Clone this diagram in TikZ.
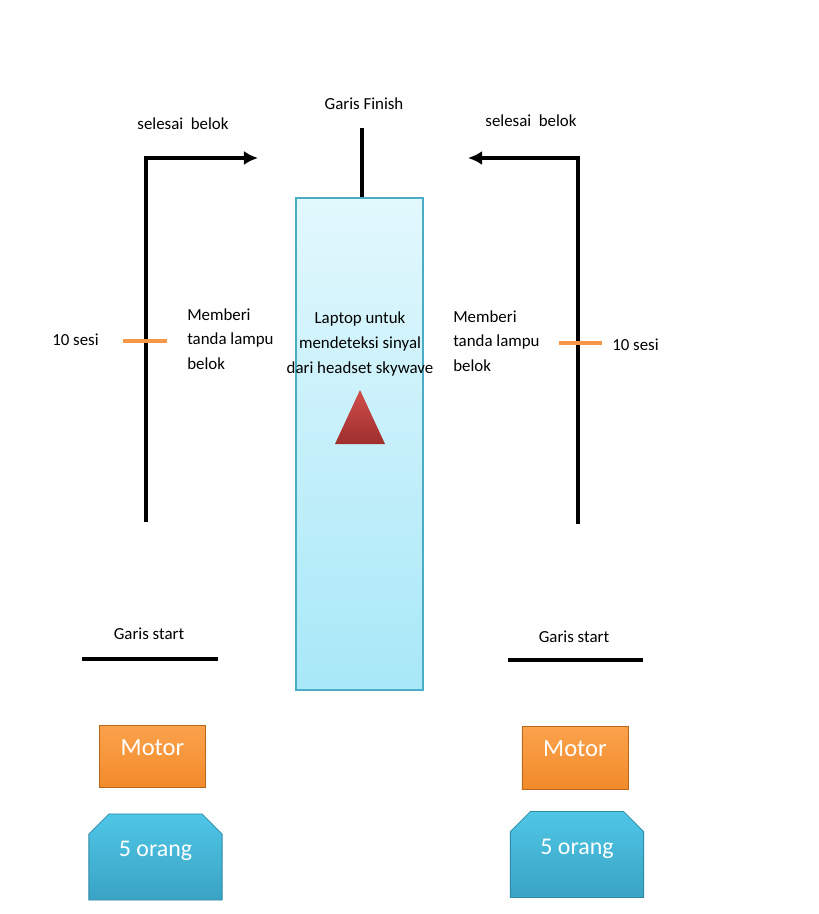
\documentclass[tikz,border=0pt]{standalone}
\usepackage{fontspec}
\setmainfont{Carlito}
\usetikzlibrary{arrows.meta, shapes.misc, positioning}

\definecolor{boxcyan}{HTML}{4BACC6}
\definecolor{boxtop}{HTML}{E2F8FD}
\definecolor{boxbottom}{HTML}{A8E8F8}
\definecolor{tickorange}{HTML}{F79646}
\definecolor{motortop}{HTML}{FBA24C}
\definecolor{motorbottom}{HTML}{F28A2A}
\definecolor{motorborder}{HTML}{B8661A}
\definecolor{grouptop}{HTML}{4FC6E6}
\definecolor{groupbottom}{HTML}{3AA3C4}
\definecolor{groupborder}{HTML}{2F8AA6}
\definecolor{conetop}{HTML}{D04E4C}
\definecolor{conebottom}{HTML}{9E2F2D}

\begin{document}
\begin{tikzpicture}[x=0.025cm, y=-0.025cm,
            track/.style={line width=2.8pt},
            lamptick/.style={draw=tickorange, line width=2.4pt},
            startline/.style={line width=2.3pt},
            lbl/.style={inner sep=0pt, font=\fontsize{12}{14}\selectfont},
            lamp/.style={lbl, align=left, font=\fontsize{12}{17.5}\selectfont},
            laptopbox/.style={draw=boxcyan, line width=1.4pt, top color=boxtop, bottom color=boxbottom,
                minimum width=3.175cm, minimum height=12.3cm, inner sep=0pt},
            motorbox/.style={draw=motorborder, line width=0.6pt, top color=motortop, bottom color=motorbottom,
                minimum width=2.65cm, minimum height=1.56cm, inner sep=0pt, text depth=13pt,
                text=white, font=\fontsize{17.5}{20}\selectfont},
            groupbox/.style={chamfered rectangle, chamfered rectangle corners={north east, north west},
                chamfered rectangle xsep=0.25cm, chamfered rectangle ysep=0.25cm,
                draw=groupborder, line width=0.6pt, top color=grouptop, bottom color=groupbottom,
                minimum width=3.33cm, minimum height=2.15cm, inner sep=0pt, text depth=11pt,
                text=white, font=\fontsize{17}{20}\selectfont},
            >={Latex[length=10pt,width=10pt]}]

        \useasboundingbox (0,0) rectangle (819,914);

        % middle: laptop
        \node[laptopbox] (laptop) at (359.5,444) {};
        \node[lbl, align=center, font=\fontsize{12}{17.5}\selectfont] (laptoptext) at (360,344)
            {Laptop untuk\\mendeteksi sinyal\\dari headset skywave};
        \shade[top color=conetop, bottom color=conebottom] (360,390) -- (385,444) -- (335,444) -- cycle;

        \node[lbl] (finish) at (364,104) {Garis Finish};
        \path (362,128) coordinate (finishtop);
        \draw[track] (finishtop) -- (finishtop |- laptop.north);

        % left lane
        \path (146,522) coordinate (Lbot);
        \path (146,158) coordinate (Lcorner);
        \path (258,158) coordinate (Ltip);
        \draw[track,->] (Lbot) -- (Lcorner) -- (Ltip);
        \node[lbl] (Lturn) at (183,124) {selesai\ \ belok};

        \path (123,341) coordinate (LtickA);
        \path (167,341) coordinate (LtickB);
        \draw[lamptick] (LtickA) -- (LtickB);
        \node[lbl, anchor=west] (Lsesi) at (52,340) {10 sesi};
        \node[lamp, anchor=west] (Llamp) at (187,339) {Memberi\\tanda lampu\\belok};

        \node[lbl] (Lstart) at (149,634) {Garis start};
        \path (82,659) coordinate (LstartA);
        \path (218,659) coordinate (LstartB);
        \draw[startline] (LstartA) -- (LstartB);

        \node[motorbox] (Lmotor) at (152.5,756.5) {Motor};
        \node[groupbox] (Lgroup) at (155.5,857) {5 orang};

        % right lane
        \path (578,524) coordinate (Rbot);
        \path (578,158) coordinate (Rcorner);
        \path (468,158) coordinate (Rtip);
        \draw[track,->] (Rbot) -- (Rcorner) -- (Rtip);
        \node[lbl] (Rturn) at (531,121) {selesai\ \ belok};

        \path (559,343) coordinate (RtickA);
        \path (602,343) coordinate (RtickB);
        \draw[lamptick] (RtickA) -- (RtickB);
        \node[lbl, anchor=west] (Rsesi) at (612,345) {10 sesi};
        \node[lamp, anchor=west] (Rlamp) at (453,341) {Memberi\\tanda lampu\\belok};

        \node[lbl] (Rstart) at (574,637) {Garis start};
        \path (508,660) coordinate (RstartA);
        \path (643,660) coordinate (RstartB);
        \draw[startline] (RstartA) -- (RstartB);

        \node[motorbox] (Rmotor) at (575,758) {Motor};
        \node[groupbox] (Rgroup) at (577,854.5) {5 orang};
    \end{tikzpicture}
\end{document}
